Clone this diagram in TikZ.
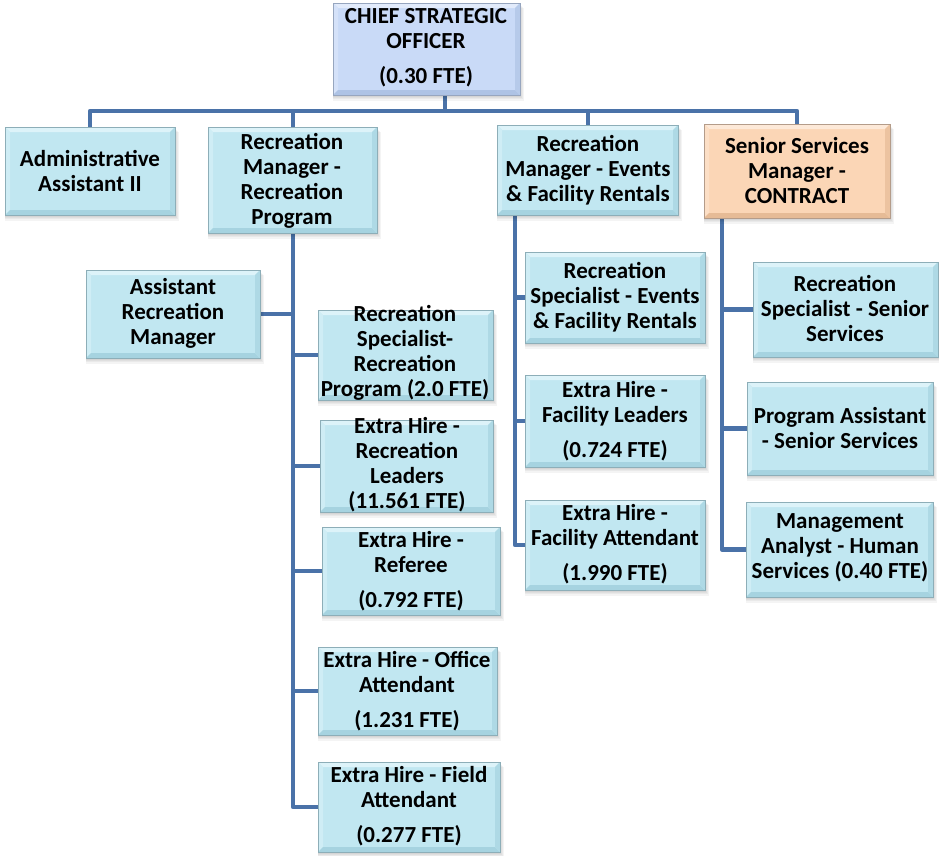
\documentclass[tikz,border=0pt]{standalone}
\usepackage{fontspec}
\setmainfont{Carlito}
\usetikzlibrary{calc}
\pgfdeclarelayer{background}
\pgfsetlayers{background,main}

% colour sets: face, highlight, side, low edge, outline
\definecolor{cyface}{HTML}{C1E7F1}
\definecolor{cyhi}{HTML}{DDF3F9}
\definecolor{cyside}{HTML}{CFEDF5}
\definecolor{cylo}{HTML}{A6D3E0}
\definecolor{cyline}{HTML}{8DAEB8}
\definecolor{peface}{HTML}{FBD6B6}
\definecolor{pehi}{HTML}{FDE9D8}
\definecolor{peside}{HTML}{FCDFC6}
\definecolor{pelo}{HTML}{E6BB96}
\definecolor{peline}{HTML}{B49C8A}
\definecolor{lvface}{HTML}{C9DAF7}
\definecolor{lvhi}{HTML}{E2EBFB}
\definecolor{lvside}{HTML}{D5E2F9}
\definecolor{lvlo}{HTML}{AEC3E5}
\definecolor{lvline}{HTML}{97A6BF}
\definecolor{linkblue}{HTML}{4A72A8}

\tikzset{
  boxbase/.style={inner sep=0pt, outer sep=0pt, rectangle},
  lbl/.style={font=\fontsize{23}{25}\selectfont\bfseries, align=center, inner sep=0pt, text=black},
  conn/.style={draw=linkblue, line width=4.5pt, line join=round},
}

% \orgbox{name}{colour set}{left}{top}{right}{bottom}
\newcommand\orgbox[6]{%
  \foreach \sh in {1,...,5}{%
    \fill[black,opacity=0.045] ({#3-0.3*\sh+1},{#4+\sh}) rectangle ({#5+0.7*\sh},{#6+1.1*\sh});}
  \node[boxbase, fill=#2face, minimum width={#5-#3}, minimum height={#6-#4}, anchor=north west] (#1) at (#3,#4) {};
  \fill[#2hi] (#1.north west) -- (#1.north east) -- ($(#1.north east)+(-5,5)$) -- ($(#1.north west)+(5,5)$) -- cycle;
  \fill[#2side] (#1.north west) -- ($(#1.north west)+(5,5)$) -- ($(#1.south west)+(5,-5)$) -- (#1.south west) -- cycle;
  \fill[#2lo] (#1.south west) -- ($(#1.south west)+(5,-5)$) -- ($(#1.south east)+(-5,-5)$) -- (#1.south east) -- cycle;
  \fill[#2lo!70!#2face] (#1.north east) -- ($(#1.north east)+(-5,5)$) -- ($(#1.south east)+(-5,-5)$) -- (#1.south east) -- cycle;
  \draw[#2line, line width=0.8pt] (#1.north west) rectangle (#1.south east);
}

\begin{document}
\begin{tikzpicture}[x=1pt, y=-1pt]
\useasboundingbox (0,0) rectangle (939,855);

% ---------- boxes ----------
\orgbox{cso}{lv}{333}{3}{520}{95}
\orgbox{admin}{cy}{5}{127}{175}{215}
\orgbox{rmrp}{cy}{208}{127}{377}{233}
\orgbox{rmef}{cy}{497}{125}{678}{215}
\orgbox{ssm}{pe}{704}{124}{890}{218}

\orgbox{arm}{cy}{86}{270}{260}{358}
\orgbox{rsrp}{cy}{318}{310}{493}{400}
\orgbox{ehrl}{cy}{320}{420}{493}{512}
\orgbox{ehref}{cy}{322}{527}{500}{615}
\orgbox{ehoa}{cy}{318}{647}{497}{735}
\orgbox{ehfa}{cy}{318}{762}{500}{852}

\orgbox{rsef}{cy}{525}{252}{705}{343}
\orgbox{ehfl}{cy}{525}{375}{705}{467}
\orgbox{ehfat}{cy}{525}{500}{705}{590}

\orgbox{rsss}{cy}{753}{262}{938}{357}
\orgbox{pass}{cy}{747}{382}{933}{475}
\orgbox{mahs}{cy}{746}{502}{933}{597}

% ---------- connectors (behind the boxes) ----------
\begin{pgfonlayer}{background}
\coordinate (bus) at (445,111);
\draw[conn] (cso.south -| bus) -- (bus);
\draw[conn] (admin.north) |- (ssm.north |- bus) -- (ssm.north);
\draw[conn] (rmrp.north -| 293,0) -- (bus -| 293,0);
\draw[conn] (rmef.north -| 588,0) -- (bus -| 588,0);

\coordinate (t1) at (293,805);
\draw[conn] (rmrp.south -| t1) -- (t1);
\draw[conn] (arm.east) -- (arm.east -| t1);
\draw[conn] (rsrp.west) -- (rsrp.west -| t1);
\draw[conn] (ehrl.west) -- (ehrl.west -| t1);
\draw[conn] (ehref.west) -- (ehref.west -| t1);
\draw[conn] (ehoa.west) -- (ehoa.west -| t1);
\draw[conn] (ehfa.west) -| (rmrp.south -| t1);

\coordinate (t2) at (515,543);
\draw[conn] (rmef.south -| t2) -- (t2);
\draw[conn] (rsef.west) -- (rsef.west -| t2);
\draw[conn] (ehfl.west) -- (ehfl.west -| t2);
\draw[conn] (ehfat.west) -| (rmef.south -| t2);

\coordinate (t3) at (722,547);
\draw[conn] (ssm.south -| t3) -- (t3);
\draw[conn] (rsss.west) -- (rsss.west -| t3);
\draw[conn] (pass.west) -- (pass.west -| t3);
\draw[conn] (mahs.west) -| (ssm.south -| t3);
\end{pgfonlayer}

% ---------- labels ----------
\node[lbl] (cso-t) at (426,48) {CHIEF STRATEGIC\\OFFICER\\[10pt](0.30 FTE)};
\node[lbl] (admin-t) at (90,171) {Administrative\\Assistant II};
\node[lbl] (rmrp-t) at (292,181) {Recreation\\Manager -\\Recreation\\Program};
\node[lbl] (rmef-t) at (588,170) {Recreation\\Manager - Events\\\& Facility Rentals};
\node[lbl] (ssm-t) at (797,171) {Senior Services\\Manager -\\CONTRACT};

\node[lbl] (arm-t) at (173,313) {Assistant\\Recreation\\Manager};
\node[lbl] (rsrp-t) at (405,353) {Recreation\\Specialist-\\Recreation\\Program (2.0 FTE)};
\node[lbl] (ehrl-t) at (407,465) {Extra Hire -\\Recreation\\Leaders\\(11.561 FTE)};
\node[lbl] (ehref-t) at (411,571) {Extra Hire -\\Referee\\[10pt](0.792 FTE)};
\node[lbl] (ehoa-t) at (407,691) {Extra Hire - Office\\Attendant\\[10pt](1.231 FTE)};
\node[lbl] (ehfa-t) at (409,806) {Extra Hire - Field\\Attendant\\[10pt](0.277 FTE)};

\node[lbl] (rsef-t) at (615,297) {Recreation\\Specialist - Events\\\& Facility Rentals};
\node[lbl] (ehfl-t) at (615,421) {Extra Hire -\\Facility Leaders\\[10pt](0.724 FTE)};
\node[lbl] (ehfat-t) at (615,544) {Extra Hire -\\Facility Attendant\\[10pt](1.990 FTE)};

\node[lbl] (rsss-t) at (845,308) {Recreation\\Specialist - Senior\\Services};
\node[lbl] (pass-t) at (840,428) {Program Assistant\\- Senior Services};
\node[lbl] (mahs-t) at (840,548) {Management\\Analyst - Human\\Services (0.40 FTE)};
\end{tikzpicture}
\end{document}
